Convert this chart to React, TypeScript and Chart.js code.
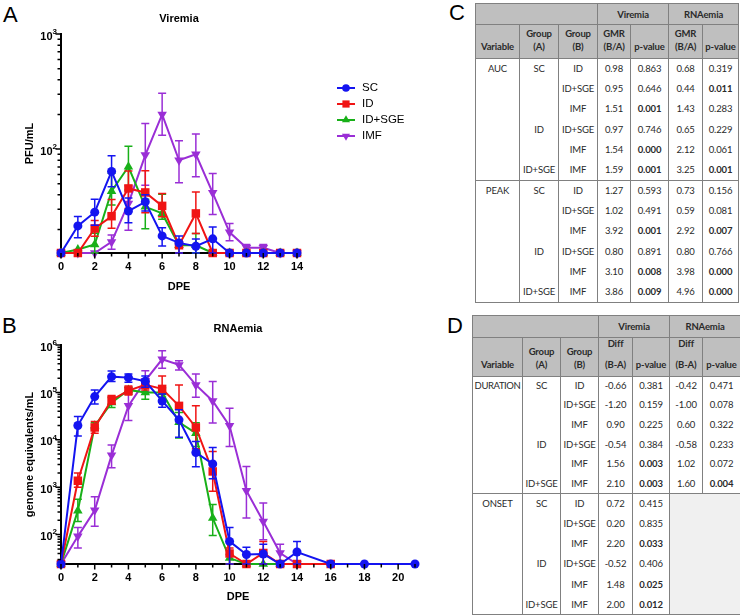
import React, { useEffect, useRef } from 'react';
import { Chart, registerables } from 'chart.js';

Chart.register(...registerables);
Chart.defaults.font.family = "'Liberation Sans', Arial, sans-serif";

// ---------- series meta ----------
const seriesNames = ['SC', 'ID', 'ID+SGE', 'IMF'];
const seriesColors = ['#1414f0', '#f01414', '#18b018', '#9a2ed6'];
const seriesPointStyles = ['circle', 'rect', 'triangle', 'triangle'];
const seriesPointRotations = [0, 0, 0, 180];
const seriesPointRadii = [4.5, 6, 5.5, 5.5];

// ---------- Panel A : Viremia (PFU/mL) ----------
const viremiaMin = 12.5;
const viremiaMax = 1000;
const viremiaDays = [0, 1, 2, 3, 4, 5, 6, 7, 8, 9, 10, 11, 12, 13, 14];
const viremiaSC = [12.5, 21.5, 28.3, 64, 28.9, 34.8, 17.6, 15.3, 14.3, 16.6, 12.5, 12.5, 12.5, 12.5, 12.5];
const viremiaSCHi = [null, 26, 36.7, 87.5, 37.5, 40, 20.7, 17.6, 16.5, 21, null, null, null, null, null];
const viremiaSCLo = [null, 17, 21.8, 47, 22.9, 29, 14.4, 12.5, 12.5, 12.5, null, null, null, null, null];
const viremiaID = [12.5, 12.5, 20.4, 26.1, 45.5, 42, 32.1, 14.6, 27.6, 12.5, 12.5, 12.5, 12.5, 12.5, 12.5];
const viremiaIDHi = [null, null, 24, 36.5, 64.4, 64.8, 41.2, 16.2, 42.3, null, null, null, null, null, null];
const viremiaIDLo = [null, null, 17.5, 20.5, 30.5, 28, 25.8, 12.5, 18.5, null, null, null, null, null, null];
const viremiaIDSGE = [12.5, 13.4, 14.8, 43.1, 70.2, 31.5, 27.6, 14.6, 14.6, 12.5, 12.5, 12.5, 12.5, 12.5, 12.5];
const viremiaIDSGEHi = [null, null, 18.6, 61.8, 106, 36.7, 40.5, 15.5, 18.5, null, null, null, null, null, null];
const viremiaIDSGELo = [null, null, 12.5, 32.6, 44, 20.3, 24.5, 12.5, 12.5, null, null, null, null, null, null];
const viremiaIMF = [12.5, 12.5, 12.5, 15.6, 33.7, 88.7, 200, 80, 90, 41.7, 18.9, 13.9, 13.9, 12.5, 12.5];
const viremiaIMFHi = [null, null, null, 17.9, 48, 167, 305, 118, 135, 61.4, 22.5, 14.8, 14.8, null, null];
const viremiaIMFLo = [null, null, null, 13.5, 19.7, 48.6, 132, 51, 57.5, 27, 16, 12.5, 12.5, null, null];

// ---------- Panel B : RNAemia (genome equivalents/mL) ----------
const rnaemiaMin = 24;
const rnaemiaMax = 1000000;
const rnaemiaDays = [0, 1, 2, 3, 4, 5, 6, 7, 8, 9, 10, 11, 12, 13, 14, 16, 18, 21];
const rnaemiaSC = [24, 20000, 81700, 215000, 205000, 172000, 66000, 26400, 5400, 3100, 72, 38, 39, 24, 43, 24, 24, 24];
const rnaemiaSCHi = [null, 31000, 113000, 284000, 245000, 222000, 93000, 43000, 9200, 6900, 142, 54, 63, null, 72, null, null, null];
const rnaemiaSCLo = [null, 12000, 57000, 169000, 164000, 128000, 48600, 11300, 2700, 1500, 24, 24, 24, null, 24, null, null, null];
const rnaemiaID = [24, 1370, 18200, 69500, 109000, 144000, 118600, 52000, 18200, 2150, 40, 24, 41, 24, 24, 24, null, null];
const rnaemiaIDHi = [null, 2000, 24400, 86000, 137000, 183000, 222000, 144000, 52000, 5700, 52, null, 72, null, null, null, null, null];
const rnaemiaIDLo = [null, 1000, 13800, 56000, 88000, 113000, 69500, 24400, 6500, 820, 24, null, 24, null, null, null, null, null];
const rnaemiaIDSGE = [24, 320, 19700, 61000, 113000, 100000, 100000, 23500, 13800, 224, 32, 24, 24, 24, null, null, null, null];
const rnaemiaIDSGEHi = [null, 560, 23000, 78000, 128000, 128000, 125000, 37600, 23000, 430, 38, null, null, null, null, null, null, null];
const rnaemiaIDSGELo = [null, 190, 16300, 48000, 93000, 72000, 80000, 10900, 7200, 96, 24, null, null, null, null, null, null, null];
const rnaemiaIMF = [24, 92, 325, 4700, 52000, 177000, 500000, 380000, 144000, 66000, 19700, 843, 190, 41, 24, null, null, null];
const rnaemiaIMFHi = [null, 142, 630, 7800, 126000, 287000, 760000, 468000, 245000, 169000, 46500, 2750, 463, 63, null, null, null, null];
const rnaemiaIMFLo = [null, 52, 150, 2560, 25500, 104000, 322000, 297000, 79000, 22500, 7200, 225, 78, 24, null, null, null, null];

// ---------- Tables ----------
const tableCHead1 = ['', 'Viremia', 'RNAemia'];
const tableCHead2 = ['Variable', 'Group\n(A)', 'Group\n(B)', 'GMR\n(B/A)', 'p-value', 'GMR\n(B/A)', 'p-value'];
const tableCRows = [
  ['AUC', 'SC', 'ID', '0.98', '0.863', '0.68', '0.319'],
  ['', '', 'ID+SGE', '0.95', '0.646', '0.44', '0.011'],
  ['', '', 'IMF', '1.51', '0.001', '1.43', '0.283'],
  ['', 'ID', 'ID+SGE', '0.97', '0.746', '0.65', '0.229'],
  ['', '', 'IMF', '1.54', '0.000', '2.12', '0.061'],
  ['', 'ID+SGE', 'IMF', '1.59', '0.001', '3.25', '0.001'],
  ['PEAK', 'SC', 'ID', '1.27', '0.593', '0.73', '0.156'],
  ['', '', 'ID+SGE', '1.02', '0.491', '0.59', '0.081'],
  ['', '', 'IMF', '3.92', '0.001', '2.92', '0.007'],
  ['', 'ID', 'ID+SGE', '0.80', '0.891', '0.80', '0.766'],
  ['', '', 'IMF', '3.10', '0.008', '3.98', '0.000'],
  ['', 'ID+SGE', 'IMF', '3.86', '0.009', '4.96', '0.000'],
];
const tableDHead1 = ['', 'Viremia', 'RNAemia'];
const tableDHead2 = ['Variable', 'Group\n(A)', 'Group\n(B)', 'Diff\n(B-A)', 'p-value', 'Diff\n(B-A)', 'p-value'];
const tableDRows = [
  ['DURATION', 'SC', 'ID', '-0.66', '0.381', '-0.42', '0.471'],
  ['', '', 'ID+SGE', '-1.20', '0.159', '-1.00', '0.078'],
  ['', '', 'IMF', '0.90', '0.225', '0.60', '0.322'],
  ['', 'ID', 'ID+SGE', '-0.54', '0.384', '-0.58', '0.233'],
  ['', '', 'IMF', '1.56', '0.003', '1.02', '0.072'],
  ['', 'ID+SGE', 'IMF', '2.10', '0.003', '1.60', '0.004'],
  ['ONSET', 'SC', 'ID', '0.72', '0.415'],
  ['', '', 'ID+SGE', '0.20', '0.835'],
  ['', '', 'IMF', '2.20', '0.033'],
  ['', 'ID', 'ID+SGE', '-0.52', '0.406'],
  ['', '', 'IMF', '1.48', '0.025'],
  ['', 'ID+SGE', 'IMF', '2.00', '0.012'],
];

// ---------- helpers ----------
function isPow10(v: number) {
  const l = Math.log10(v);
  return Math.abs(l - Math.round(l)) < 1e-9;
}
function logTicks(min: number, max: number) {
  const out: number[] = [];
  for (let e = 0; e <= 7; e++) {
    for (let m = 1; m <= 9; m++) {
      const v = m * Math.pow(10, e);
      if (v > min * 1.0001 && v <= max * 1.0001) out.push(v);
    }
  }
  return out;
}

function drawMarker(ctx: CanvasRenderingContext2D, style: string, rot: number, r: number, x: number, y: number) {
  ctx.beginPath();
  if (style === 'circle') {
    ctx.arc(x, y, r, 0, Math.PI * 2);
  } else if (style === 'rect') {
    const s = r / Math.SQRT2;
    ctx.rect(x - s, y - s, 2 * s, 2 * s);
  } else {
    let rad = (rot * Math.PI) / 180;
    ctx.moveTo(x + Math.sin(rad) * r, y - Math.cos(rad) * r);
    rad += (2 * Math.PI) / 3;
    ctx.lineTo(x + Math.sin(rad) * r, y - Math.cos(rad) * r);
    rad += (2 * Math.PI) / 3;
    ctx.lineTo(x + Math.sin(rad) * r, y - Math.cos(rad) * r);
    ctx.closePath();
  }
  ctx.fill();
}

type PanelProps = {
  left: number; top: number; W: number; H: number;
  areaLeft: number; areaTop: number; areaRight: number; areaBottom: number;
  days: number[]; series: (number | null)[][]; hi: (number | null)[][]; lo: (number | null)[][];
  yMin: number; yMax: number; xMax: number; xLabelMax: number;
  title: string; titleY: number; yTitle: string; xTitleY: number;
  legend?: { x: number; y: number; gap: number };
};

function ChartPanel(p: PanelProps) {
  const ref = useRef<HTMLCanvasElement | null>(null);
  useEffect(() => {
    if (!ref.current) return;
    const datasets = seriesNames.map((name, si) => ({
      label: name,
      data: p.days.map((d, i) => ({ x: d, y: p.series[si][i] })),
      errHi: p.hi[si],
      errLo: p.lo[si],
      borderColor: seriesColors[si],
      backgroundColor: seriesColors[si],
      pointBackgroundColor: seriesColors[si],
      pointBorderColor: seriesColors[si],
      pointStyle: seriesPointStyles[si],
      pointRotation: seriesPointRotations[si],
      pointRadius: seriesPointRadii[si],
      pointBorderWidth: 0,
      borderWidth: 2,
      tension: 0,
      clip: false as any,
      spanGaps: false,
    }));

    const errorBars = {
      id: 'errorBars',
      beforeDatasetDraw(chart: any, args: any) {
        const ds = chart.data.datasets[args.index];
        const ys = chart.scales.y;
        const ctx = chart.ctx;
        ctx.save();
        ctx.strokeStyle = ds.borderColor;
        ctx.lineWidth = 1.5;
        args.meta.data.forEach((el: any, i: number) => {
          const h = ds.errHi[i];
          const l = ds.errLo[i];
          if (h == null || l == null) return;
          const x = el.x;
          const yh = ys.getPixelForValue(h);
          const yl = ys.getPixelForValue(l);
          ctx.beginPath();
          ctx.moveTo(x, yh); ctx.lineTo(x, yl);
          ctx.moveTo(x - 4, yh); ctx.lineTo(x + 4, yh);
          ctx.moveTo(x - 4, yl); ctx.lineTo(x + 4, yl);
          ctx.stroke();
        });
        ctx.restore();
      },
    };

    const decor = {
      id: 'decor',
      afterDraw(chart: any) {
        const ctx = chart.ctx;
        const xs = chart.scales.x;
        const ys = chart.scales.y;
        const a = chart.chartArea;
        ctx.save();
        ctx.strokeStyle = '#000';
        ctx.lineWidth = 1.5;
        ctx.beginPath();
        ys.ticks.forEach((t: any) => {
          const y = ys.getPixelForValue(t.value);
          const len = isPow10(t.value) ? 4.5 : 2.5;
          ctx.moveTo(a.left - len - 1, y); ctx.lineTo(a.left, y);
        });
        xs.ticks.forEach((t: any) => {
          const x = xs.getPixelForValue(t.value);
          const len = t.value % 2 === 0 ? 4.5 : 2.5;
          ctx.moveTo(x, a.bottom); ctx.lineTo(x, a.bottom + len + 1);
        });
        ctx.stroke();
        // y tick labels: 10 with raised exponent
        ctx.fillStyle = '#000';
        ctx.textBaseline = 'middle';
        ys.ticks.forEach((t: any) => {
          if (!isPow10(t.value)) return;
          const y = ys.getPixelForValue(t.value);
          const exp = String(Math.round(Math.log10(t.value)));
          ctx.font = "bold 8px 'Liberation Sans', Arial, sans-serif";
          const ew = ctx.measureText(exp).width;
          const right = a.left - 4;
          ctx.textAlign = 'left';
          ctx.fillText(exp, right - ew, y - 2.5);
          ctx.font = "bold 11px 'Liberation Sans', Arial, sans-serif";
          ctx.textAlign = 'right';
          ctx.fillText('10', right - ew, y + 2.5);
        });
        // title
        ctx.font = "bold 11px 'Liberation Sans', Arial, sans-serif";
        ctx.textAlign = 'center';
        ctx.textBaseline = 'middle';
        ctx.fillText(p.title, (a.left + a.right) / 2, p.titleY);
        // legend
        if (p.legend) {
          const lg = p.legend;
          seriesNames.forEach((name, si) => {
            const y = lg.y + si * lg.gap;
            ctx.strokeStyle = seriesColors[si];
            ctx.fillStyle = seriesColors[si];
            ctx.lineWidth = 2;
            ctx.beginPath();
            ctx.moveTo(lg.x, y); ctx.lineTo(lg.x + 18, y);
            ctx.stroke();
            drawMarker(ctx, seriesPointStyles[si], seriesPointRotations[si], seriesPointRadii[si] * 0.85, lg.x + 9, y);
            ctx.fillStyle = '#000';
            ctx.font = "11.5px 'Liberation Sans', Arial, sans-serif";
            ctx.textAlign = 'left';
            ctx.fillText(name, lg.x + 25, y);
          });
        }
        ctx.restore();
      },
    };

    const yTickVals = logTicks(p.yMin, p.yMax);
    const xTickVals: number[] = [];
    for (let i = 0; i <= p.xMax; i++) xTickVals.push(i);
    const lh = 11 * 1.2;

    const chart = new Chart(ref.current, {
      type: 'line',
      data: { datasets: datasets as any },
      plugins: [errorBars, decor],
      options: {
        responsive: false,
        animation: false,
        layout: { padding: { left: 0, top: p.areaTop, right: p.W - p.areaRight, bottom: 0 } },
        plugins: { legend: { display: false }, title: { display: false }, tooltip: { enabled: false } },
        scales: {
          x: {
            type: 'linear',
            min: 0,
            max: p.xMax,
            afterFit: (s: any) => { s.height = p.H - p.areaBottom; },
            afterBuildTicks: (s: any) => { s.ticks = xTickVals.map((v) => ({ value: v })); },
            grid: { display: false, drawTicks: false },
            border: { display: true, color: '#000', width: 2 },
            ticks: {
              autoSkip: false, maxRotation: 0, padding: 7, color: '#000',
              font: { size: 11, weight: 'bold' },
              callback: (v: any) => (v % 2 === 0 && v <= p.xLabelMax ? String(v) : ''),
            },
            title: {
              display: true, text: 'DPE', color: '#000', font: { size: 11, weight: 'bold' },
              padding: { top: 0, bottom: p.H - p.xTitleY - lh / 2 },
            },
          },
          y: {
            type: 'logarithmic',
            min: p.yMin,
            max: p.yMax,
            afterFit: (s: any) => { s.width = p.areaLeft; },
            afterBuildTicks: (s: any) => { s.ticks = yTickVals.map((v) => ({ value: v })); },
            grid: { display: false, drawTicks: false },
            border: { display: true, color: '#000', width: 2 },
            ticks: { display: false },
            title: {
              display: true, text: p.yTitle, color: '#000', font: { size: 11, weight: 'bold' },
              padding: { top: 30 - lh / 2, bottom: 0 },
            },
          },
        },
      } as any,
    });
    return () => chart.destroy();
  }, []);
  return (
    <canvas
      ref={ref}
      width={p.W}
      height={p.H}
      style={{ position: 'absolute', left: p.left, top: p.top, width: p.W, height: p.H }}
    />
  );
}

// ---------- Table ----------
const BORDER = '1px solid #808080';
const HEADER_BG = '#bfbfbf';

type TableProps = {
  left: number; top: number; widths: number[];
  head1: string[]; head2: string[]; rows: string[][];
  h1: number; h2: number; h2Pad: number; rowHeights: number[];
  diffGap?: number;
};

function StatTable(t: TableProps) {
  const total = t.widths.reduce((a, b) => a + b, 0);
  const hdr: React.CSSProperties = {
    background: HEADER_BG, border: BORDER, fontWeight: 'bold', textAlign: 'center', padding: 0,
  };
  const groups = [t.rows.slice(0, 6), t.rows.slice(6, 12)];
  return (
    <table
      style={{
        position: 'absolute', left: t.left, top: t.top, width: total, borderCollapse: 'collapse',
        tableLayout: 'fixed', fontFamily: "Lato, 'Open Sans', sans-serif", fontSize: 9.5, color: '#2a2a2a',
        letterSpacing: '-0.15px',
      }}
    >
      <colgroup>
        {t.widths.map((w, i) => <col key={i} style={{ width: w }} />)}
      </colgroup>
      <tbody>
        <tr style={{ height: t.h1 }}>
          <td colSpan={3} style={hdr}>{t.head1[0]}</td>
          <td colSpan={2} style={hdr}>{t.head1[1]}</td>
          <td colSpan={2} style={hdr}>{t.head1[2]}</td>
        </tr>
        <tr style={{ height: t.h2 }}>
          {t.head2.map((h, i) => {
            const lines = h.split('\n');
            const isDiff = t.diffGap != null && h.startsWith('Diff');
            return (
              <td
                key={i}
                style={{
                  ...hdr, verticalAlign: 'bottom', lineHeight: '12.5px',
                  paddingBottom: t.h2Pad,
                }}
              >
                {lines.map((ln, k) => (
                  <div key={k} style={{ marginTop: isDiff && k > 0 ? t.diffGap : 0 }}>{ln}</div>
                ))}
              </td>
            );
          })}
        </tr>
        {groups.map((g, gi) =>
          g.map((r, ri) => {
            const cells: any[] = [];
            for (let c = 0; c < r.length; c++) {
              const bold = (c === 4 || c === 6) && parseFloat(r[c]) < 0.05;
              cells.push(
                <td
                  key={c}
                  style={{
                    borderLeft: BORDER, borderRight: BORDER,
                    borderTop: ri === 0 ? BORDER : 'none',
                    borderBottom: ri === g.length - 1 ? BORDER : 'none',
                    textAlign: 'center', padding: 0, fontWeight: bold ? 'bold' : 'normal',
                    whiteSpace: 'nowrap', lineHeight: '12px', overflow: 'visible',
                    letterSpacing: c === 0 && r[c].length > 6 ? '-0.4px' : undefined,
                  }}
                >
                  {r[c]}
                </td>
              );
            }
            if (r.length < 7 && ri === 0) {
              cells.push(
                <td key="shade" colSpan={2} rowSpan={g.length} style={{ background: '#f0f0f0', border: BORDER }} />
              );
            }
            return (
              <tr key={gi + '-' + ri} style={{ height: t.rowHeights[gi] }}>
                {cells}
              </tr>
            );
          })
        )}
      </tbody>
    </table>
  );
}

const panelLetter: React.CSSProperties = {
  position: 'absolute', fontFamily: "'Liberation Sans', Arial, sans-serif", fontSize: 22, lineHeight: 1, color: '#000',
};

export default function App() {
  return (
    <div style={{ position: 'absolute', left: 0, top: 0, width: 740, height: 615, background: '#fff', overflow: 'hidden' }}>
      <div style={{ ...panelLetter, left: 3, top: 4 }}>A</div>
      <div style={{ ...panelLetter, left: 2, top: 315 }}>B</div>
      <div style={{ ...panelLetter, left: 449, top: 2 }}>C</div>
      <div style={{ ...panelLetter, left: 447, top: 315 }}>D</div>
      <ChartPanel
        left={0} top={0} W={420} H={300}
        areaLeft={61} areaTop={34} areaRight={297} areaBottom={253}
        days={viremiaDays}
        series={[viremiaSC, viremiaID, viremiaIDSGE, viremiaIMF]}
        hi={[viremiaSCHi, viremiaIDHi, viremiaIDSGEHi, viremiaIMFHi]}
        lo={[viremiaSCLo, viremiaIDLo, viremiaIDSGELo, viremiaIMFLo]}
        yMin={viremiaMin} yMax={viremiaMax} xMax={14} xLabelMax={14}
        title="Viremia" titleY={19} yTitle="PFU/mL" xTitleY={286.5}
        legend={{ x: 337, y: 88, gap: 16 }}
      />
      <ChartPanel
        left={0} top={300} W={430} H={315}
        areaLeft={61} areaTop={45} areaRight={415} areaBottom={264}
        days={rnaemiaDays}
        series={[rnaemiaSC, rnaemiaID, rnaemiaIDSGE, rnaemiaIMF]}
        hi={[rnaemiaSCHi, rnaemiaIDHi, rnaemiaIDSGEHi, rnaemiaIMFHi]}
        lo={[rnaemiaSCLo, rnaemiaIDLo, rnaemiaIDSGELo, rnaemiaIMFLo]}
        yMin={rnaemiaMin} yMax={rnaemiaMax} xMax={21} xLabelMax={20}
        title="RNAemia" titleY={29} yTitle="genome equivalents/mL" xTitleY={297}
      />
      <StatTable
        left={475} top={3} widths={[44, 39, 39, 33, 38, 34, 36]}
        head1={tableCHead1} head2={tableCHead2} rows={tableCRows}
        h1={21} h2={34} h2Pad={5} rowHeights={[20.33, 20.33]}
      />
      <StatTable
        left={472} top={315} widths={[50, 38, 38, 34, 37, 33, 38]}
        head1={tableDHead1} head2={tableDHead2} rows={tableDRows}
        h1={22} h2={38} h2Pad={4.5} rowHeights={[19.67, 20.17]} diffGap={8}
      />
    </div>
  );
}
